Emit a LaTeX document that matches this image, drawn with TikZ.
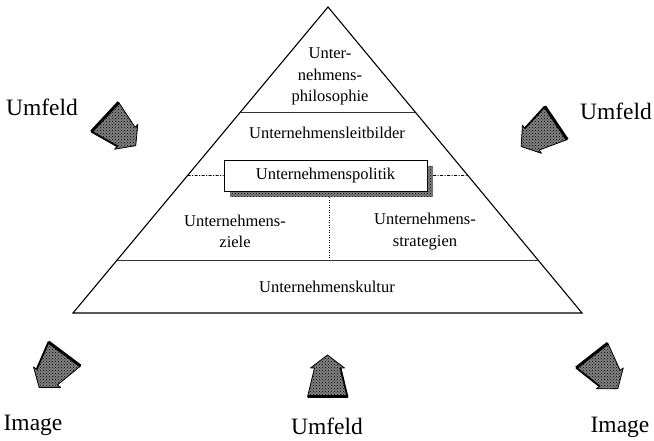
\documentclass[tikz,border=0pt]{standalone}
\usepackage{fontspec}
\setmainfont{Liberation Serif}
\usetikzlibrary{patterns,calc}
\begin{document}
\begin{tikzpicture}[x=1pt,y=1pt,
  txt/.style={font=\fontsize{16.5}{21.5}\selectfont, align=center, inner sep=0pt},
  big/.style={font=\fontsize{23.5}{28}\selectfont, inner sep=0pt, anchor=base},
  pyr/.style={line width=1.1pt},
  sep/.style={line width=0.9pt, black!80},
  dashdot/.style={line width=0.6pt, dash pattern=on 3pt off 1.5pt on 1pt off 1.5pt},
  shade/.style={fill=black!50, postaction={pattern=crosshatch dots, pattern color=black}},
  barrow/.pic={
    \path[shade] (-20,0) -- (20,0) -- (13,29) -- (17,29) -- (0,42) -- (-17,29) -- (-13,29) -- cycle;
    \draw[line width=0.8pt, line join=round] (-20,0) -- (20,0) -- (13,29) -- (17,29) -- (0,42) -- (-17,29) -- (-13,29) -- cycle;
    \draw[line width=1.8pt] (20,0) -- (13,29);
    \draw[line width=3pt] (-20,0) -- (20,0);
  }]
\useasboundingbox (0,0) rectangle (654,441);
% pyramid
\coordinate (T) at (328,434);
\coordinate (L) at (73,128);
\coordinate (R) at (582,128);
\draw[pyr, line join=miter] (T) -- (L) -- (R) -- cycle;
\draw[sep] ($(T)!0.343!(L)$) -- ($(T)!0.343!(R)$);
\draw[sep] ($(T)!0.827!(L)$) coordinate (kl) -- ($(T)!0.827!(R)$) coordinate (kr);
\coordinate (vb) at (329,181);
% Politik box with shadow
\node[shade, minimum width=203pt, minimum height=31pt, inner sep=0pt] (polshadow) at (331.5,259.5) {};
\node[draw, fill=white, line width=0.8pt, minimum width=203pt, minimum height=31pt, inner sep=0pt, txt] (pol) at (325.5,265.5) {Unternehmenspolitik};
\draw[dashdot] ($(T)!0.5507!(L)$) -- (pol.west);
\draw[dashdot] (pol.east -| polshadow.east) -- ($(T)!0.5507!(R)$);
\draw[line width=0.6pt, dash pattern=on 1pt off 1.5pt] (polshadow.south -| vb) -- (vb);
% texts
\node[txt] (phil) at (330,364.5) {Unter-\\nehmens-\\philosophie};
\node[txt] (leit) at (327,308) {Unternehmensleitbilder};
\node[txt] (ziel) at (235,209.5) {Unternehmens-\\ziele};
\node[txt] (strat) at (425,209.5) {Unternehmens-\\strategien};
\node[txt] (kult) at (327,154) {Unternehmenskultur};
\node[big] (u1) at (42,325) {Umfeld};
\node[big] (u2) at (616,321) {Umfeld};
\node[big] (u3) at (327,6) {Umfeld};
\node[big] (i1) at (33,10) {Image};
\node[big] (i2) at (620,8) {Image};
% arrows
\pic[rotate=-133] at (105,324) {barrow};
\pic[rotate=124] at (556,318) {barrow};
\pic at (327.5,44) {barrow};
\pic[rotate=143] at (64.5,87) {barrow};
\pic[rotate=-142] at (592,85.5) {barrow};
\end{tikzpicture}
\end{document}
